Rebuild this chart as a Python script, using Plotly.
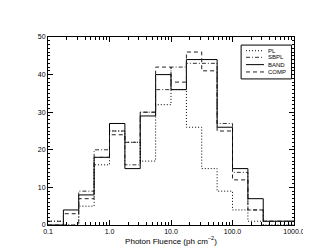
import plotly.graph_objects as go

# bin edges (photon fluence, ph cm^-2)
bin_edges = [0.1, 0.178, 0.316, 0.562, 1.0, 1.78, 3.16, 5.62, 10.0, 17.8, 31.6, 56.2, 100.0, 178.0, 316.0, 562.0, 1000.0]

pl_counts   = [1, 0, 5, 16, 25, 22, 17, 32, 36, 26, 15, 9, 4, 1, 0, 0]
sbpl_counts = [1, 0, 9, 20, 25, 16, 30, 36, 42, 43, 43, 27, 14, 4, 1, 1]
band_counts = [0, 4, 8, 18, 27, 15, 29, 40, 36, 44, 44, 26, 15, 7, 1, 1]
comp_counts = [0, 3, 7, 18, 24, 22, 30, 42, 38, 46, 41, 25, 12, 4, 1, 1]

series_names = ["PL", "SBPL", "BAND", "COMP"]

x_tickvals = [0.1, 1.0, 10.0, 100.0, 1000.0]
x_ticktext = ["0.1", "1.0", "10.0", "100.0", "1000.0"]
y_tickvals = [0, 10, 20, 30, 40, 50]

styles = {
    "PL": ("1px,2px", "#000000"),
    "SBPL": ("4px,2px,1px,2px", "#333333"),
    "BAND": ("solid", "#000000"),
    "COMP": ("4px,3px", "#222222"),
}
counts_by_name = {"PL": pl_counts, "SBPL": sbpl_counts, "BAND": band_counts, "COMP": comp_counts}

fig = go.Figure()
for name in series_names:
    counts = counts_by_name[name]
    dash, color = styles[name]
    xs = list(bin_edges)
    ys = list(counts) + [counts[-1]]
    fig.add_trace(go.Scatter(
        x=xs, y=ys, name=name, mode="lines", showlegend=False,
        line=dict(shape="hv", dash=dash, color=color, width=1),
    ))

# manual compact legend (box, line samples, labels) in paper coordinates
leg_x0, leg_x1, leg_y0, leg_y1 = 0.785, 0.990, 0.777, 0.957
entry_y = [0.927, 0.892, 0.853, 0.814]
sample_x0, sample_x1, text_x = 0.805, 0.878, 0.892
shapes = [dict(type="rect", xref="paper", yref="paper", x0=leg_x0, x1=leg_x1, y0=leg_y0, y1=leg_y1,
               line=dict(color="#000000", width=1), fillcolor="white", layer="above")]
annotations = []
for name, yy in zip(series_names, entry_y):
    dash, color = styles[name]
    shapes.append(dict(type="line", xref="paper", yref="paper", x0=sample_x0, x1=sample_x1, y0=yy, y1=yy,
                       line=dict(color=color, width=1, dash=dash), layer="above"))
    annotations.append(dict(xref="paper", yref="paper", x=text_x, y=yy, xanchor="left", yanchor="middle",
                            text=name, showarrow=False, borderpad=0,
                            font=dict(family="Liberation Sans, Arial, sans-serif", size=6, color="#000000")))

font = dict(family="Liberation Sans, Arial, sans-serif", size=7, color="#000000")

fig.update_layout(
    width=311, height=249,
    margin=dict(l=40, r=25, t=29, b=32),
    paper_bgcolor="white", plot_bgcolor="white",
    font=font,
    showlegend=False,
    shapes=shapes,
    annotations=annotations,
)
fig.update_xaxes(
    type="log", range=[-1, 3],
    tickvals=x_tickvals, ticktext=x_ticktext,
    ticks="inside", ticklen=5, tickcolor="#000000",
    tickfont=dict(size=7, color="#000000"),
    minor=dict(ticks="inside", ticklen=3, dtick="D1", tickcolor="#000000", showgrid=False),
    showline=True, linecolor="#000000", linewidth=1, mirror="allticks",
    showgrid=False, zeroline=False,
    title=dict(text="Photon Fluence (ph cm<sup>−2</sup>)", standoff=2,
               font=dict(size=8, color="#000000")),
)
fig.update_yaxes(
    range=[0, 50],
    tickvals=y_tickvals,
    ticks="inside", ticklen=5, tickcolor="#000000",
    tickfont=dict(size=7, color="#000000"),
    minor=dict(ticks="inside", ticklen=2, dtick=1, tickcolor="#000000", showgrid=False),
    showline=True, linecolor="#000000", linewidth=1, mirror="allticks",
    showgrid=False, zeroline=False,
)

fig.write_html("out.html")
